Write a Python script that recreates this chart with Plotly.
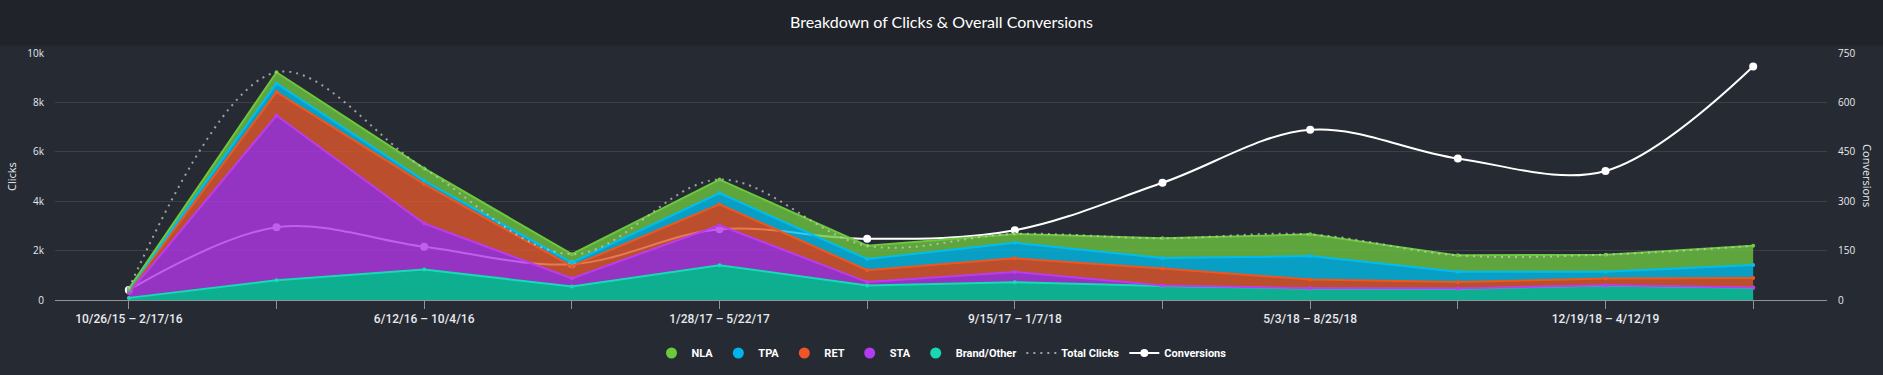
import plotly.graph_objects as go

categories = [
    "10/26/15 – 2/17/16", "2/18/16 – 6/11/16", "6/12/16 – 10/4/16", "10/5/16 – 1/27/17",
    "1/28/17 – 5/22/17", "5/23/17 – 9/14/17", "9/15/17 – 1/7/18", "1/8/18 – 5/2/18",
    "5/3/18 – 8/25/18", "8/26/18 – 12/18/18", "12/19/18 – 4/12/19", "4/13/19 – 8/5/19",
]
shown_labels = [c if i % 2 == 0 else "" for i, c in enumerate(categories)]

brand_other = [90, 800, 1240, 550, 1410, 590, 720, 570, 470, 460, 590, 500]
sta = [190, 6670, 1860, 330, 1620, 140, 420, 20, 10, 10, 10, 10]
ret = [100, 950, 1590, 490, 850, 480, 550, 690, 350, 260, 270, 380]
tpa = [40, 350, 140, 150, 450, 450, 630, 420, 950, 420, 280, 530]
nla = [50, 450, 500, 340, 550, 540, 360, 800, 880, 660, 690, 780]
total_clicks = [470, 9220, 5330, 1860, 4880, 2200, 2680, 2500, 2660, 1810, 1840, 2200]
conversions = [31, 221, 162, 109, 215, 186, 212, 356, 517, 430, 392, 709]

xpos = list(range(len(categories)))

BG = "#262a33"
HEADER = "#202329"
TEXT = "#e8eaee"
FONT = "Roboto, Arial, sans-serif"

fig = go.Figure()

# Conversions first (base y axis, right side) so the areas are drawn over it
fig.add_trace(go.Scatter(
    x=xpos, y=conversions, name="Conversions", yaxis="y",
    mode="lines+markers", line=dict(color="#ffffff", width=2, shape="spline"),
    marker=dict(size=8, color="#ffffff"), legendrank=7,
))

series = [
    ("Brand/Other", brand_other, "rgba(9,208,168,0.8)", "#14dcb4", "#17d8b0"),
    ("STA", sta, "rgba(178,54,231,0.8)", "#bb3cf0", "#b23cf0"),
    ("RET", ret, "rgba(225,87,43,0.8)", "#f0561e", "#ee5528"),
    ("TPA", tpa, "rgba(3,187,232,0.8)", "#00bdf0", "#00b4ee"),
    ("NLA", nla, "rgba(110,196,65,0.8)", "#6cc83c", "#6cc83c"),
]
for name, vals, fillc, linec, legc in series:
    fig.add_trace(go.Scatter(
        x=xpos, y=vals, name=name, yaxis="y2", stackgroup="clicks",
        mode="lines+markers", line=dict(color=linec, width=2),
        marker=dict(size=4, color=linec), fillcolor=fillc, showlegend=False,
    ))

# Legend entries for the areas (circle symbols)
rank = {"NLA": 1, "TPA": 2, "RET": 3, "STA": 4, "Brand/Other": 5}
for name, vals, fillc, linec, legc in series:
    fig.add_trace(go.Scatter(
        x=[None], y=[None], name=name, yaxis="y2", mode="markers",
        marker=dict(size=11, color=legc), legendrank=rank[name],
    ))

fig.add_trace(go.Scatter(
    x=xpos, y=total_clicks, name="Total Clicks", yaxis="y2",
    mode="lines", line=dict(color="rgba(200,200,200,0.75)", width=2, dash="2px,5px", shape="spline"),
    legendrank=6,
))

fig.update_layout(
    width=1883, height=375,
    paper_bgcolor=BG, plot_bgcolor=BG,
    margin=dict(l=53, r=56, t=53, b=61),
    font=dict(family=FONT, color=TEXT, size=11),
    title=dict(text="Breakdown of Clicks & Overall Conversions", x=0.5, xref="container",
               y=1 - 22 / 375, yanchor="middle", xanchor="center",
               font=dict(family="Lato, Open Sans, sans-serif", size=16, color="#ffffff")),
    xaxis=dict(range=[-0.5, 11.5], tickvals=xpos, ticktext=shown_labels,
               showgrid=False, zeroline=False, showline=True, linecolor="#8e939c", linewidth=1,
               ticks="outside", ticklen=8, tickcolor="#8e939c", tickwidth=1,
               tickfont=dict(family=FONT, size=12, color=TEXT, weight=500), fixedrange=True),
    yaxis=dict(side="right", range=[0, 750], dtick=150, showgrid=False, zeroline=False,
               tickfont=dict(family="Open Sans, sans-serif", size=10, color=TEXT),
               ticklabelstandoff=10),
    yaxis2=dict(side="left", overlaying="y", range=[0, 10000], dtick=2000, tickformat="~s",
                showgrid=True, gridcolor="#3c3f45", gridwidth=1, zeroline=False,
                tickfont=dict(family="Open Sans, sans-serif", size=10, color=TEXT),
                ticklabelstandoff=10,
                title=dict(text="Clicks", font=dict(family="Open Sans, sans-serif", size=11, color=TEXT),
                           standoff=8)),
    legend=dict(orientation="h", x=0.5, xanchor="center", xref="container",
                y=1 - 353 / 375, yref="container", yanchor="middle",
                font=dict(family=FONT, size=11, color="#ffffff", weight="bold"),
                itemwidth=30, traceorder="normal", bgcolor="rgba(0,0,0,0)"),
    shapes=[dict(type="rect", xref="paper", yref="paper", x0=-0.2, x1=1.2,
                 y0=(314 - 45) / 261, y1=1.5, fillcolor=HEADER, line=dict(width=0), layer="below")],
    annotations=[dict(text="Conversions", xref="paper", yref="paper",
                      x=(1868 - 53) / 1774, y=(314 - 183) / 261, showarrow=False, textangle=90,
                      xanchor="center", yanchor="middle",
                      font=dict(family="Open Sans, sans-serif", size=11, color=TEXT))],
    showlegend=True,
)

fig.write_html(
    "out.html",
    config={"displayModeBar": False},
    post_script="document.body.style.margin='0';document.body.style.overflow='hidden';"
                "document.body.style.background='" + BG + "';",
)
